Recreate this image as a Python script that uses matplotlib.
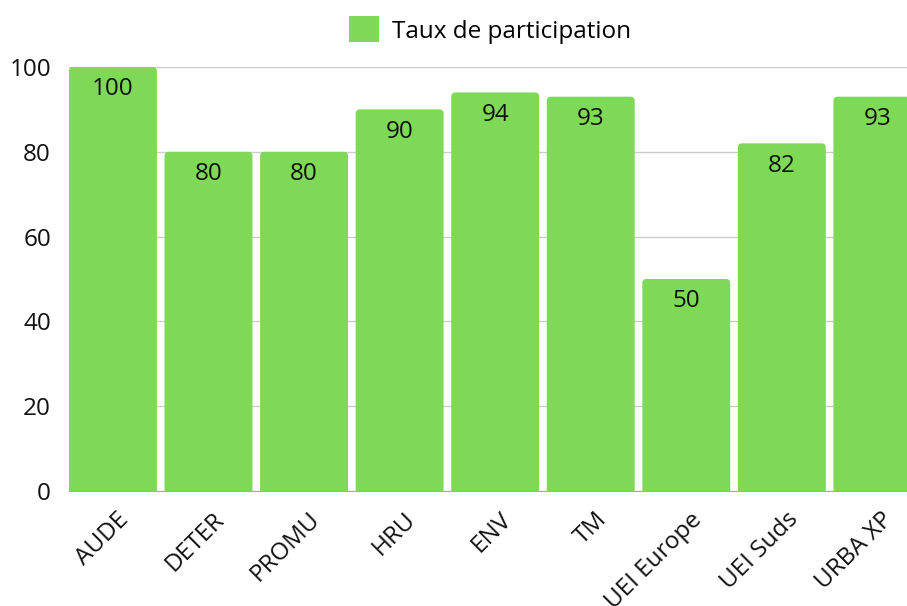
import matplotlib.pyplot as plt
from matplotlib.patches import FancyBboxPatch, Patch
from matplotlib.transforms import ScaledTranslation

plt.rcParams['font.family'] = ['Open Sans', 'DejaVu Sans']

categories = ['AUDE', 'DETER', 'PROMU', 'HRU', 'ENV', 'TM', 'UEI Europe', 'UEI Suds', 'URBA XP']
taux = [100, 80, 80, 90, 94, 93, 50, 82, 93]
yticks = [0, 20, 40, 60, 80, 100]

GREEN = '#7ed957'
FS = 17.5

fig = plt.figure(figsize=(9.07, 6.06), dpi=100)
ax = fig.add_axes([69 / 907, 115 / 606, 860 / 907, 424 / 606])

x = list(range(len(categories)))
bars = ax.bar(x, taux, width=0.92, color=GREEN)

# swap the plain bars for ones with rounded top corners
for b in bars:
    x0, y0 = b.get_xy()
    w, h = b.get_width(), b.get_height()
    rb = FancyBboxPatch((x0, y0 - 3), w, h + 3,
                        boxstyle='round,pad=0,rounding_size=0.045',
                        mutation_aspect=22, facecolor=GREEN, edgecolor='none',
                        zorder=2)
    ax.add_patch(rb)
    b.remove()

for xi, v in zip(x, taux):
    ax.annotate(str(v), (xi, v), xytext=(0, -16), textcoords='offset points',
                ha='center', va='center', fontsize=FS, color='#111111', zorder=3)

ax.set_xlim(-0.46, len(categories) - 0.46)
ax.set_ylim(0, 100)
ax.set_yticks(yticks)
ax.yaxis.grid(True, color='#cccccc', linewidth=1)
ax.set_axisbelow(True)
for s in ['top', 'right', 'left']:
    ax.spines[s].set_visible(False)
ax.spines['bottom'].set_color('#aaaaaa')
ax.spines['bottom'].set_zorder(1)

ax.tick_params(axis='y', length=0, labelsize=FS, pad=13, labelcolor='#111111')
ax.tick_params(axis='x', length=0, labelsize=FS, pad=12, labelcolor='#111111')
ax.set_xticks(x)
ax.set_xticklabels(categories, rotation=45, ha='right', va='top', rotation_mode='anchor')
for lbl in ax.get_xticklabels():
    lbl.set_transform(lbl.get_transform() + ScaledTranslation(0.04, 0, fig.dpi_scale_trans))

fig.legend(handles=[Patch(facecolor=GREEN, label='Taux de participation')],
           loc='center', bbox_to_anchor=(490 / 907, 1 - 30 / 606), frameon=False,
           fontsize=FS, handlelength=1.25, handleheight=1.25, handletextpad=0.55)

fig.savefig('out.png', dpi=100)
